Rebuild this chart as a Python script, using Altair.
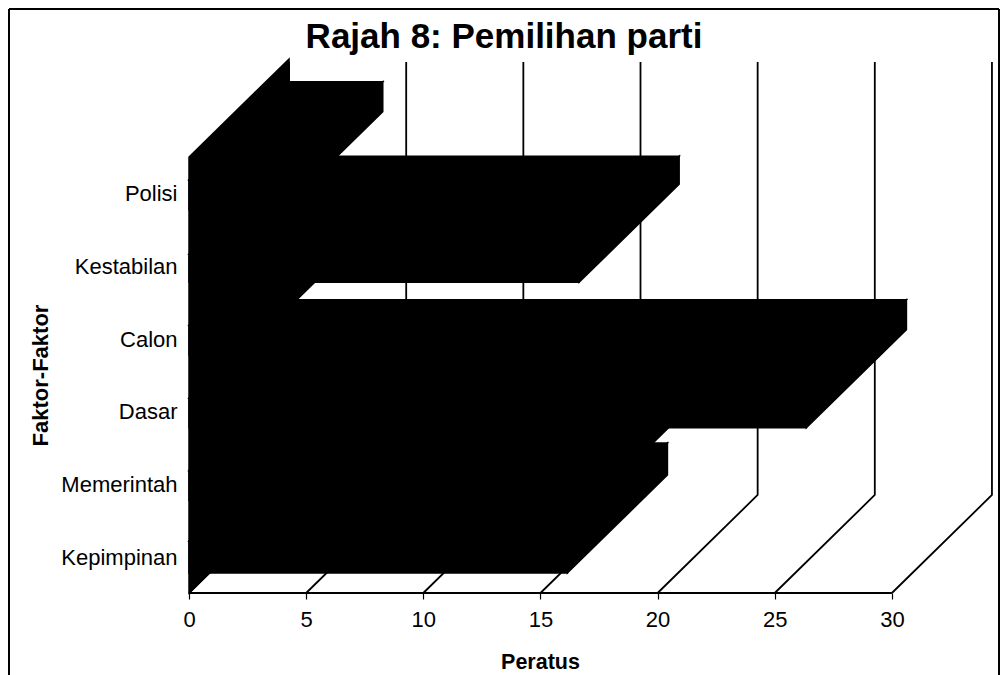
import altair as alt
import pandas as pd

categories = ["Kepimpinan", "Memerintah", "Dasar", "Calon", "Kestabilan", "Polisi"]
values = [16.15, 17.3, 26.35, 2.2, 16.65, 4.0]
bar_thick = [0.44, 0.41, 0.41, 0.41, 0.385, 0.41]
ticks = [0, 5, 10, 15, 20, 25, 30]

X_MAX = 34.4
Y_MAX = 7.307
DX = 4.27      # depth of the 3-D box, x units
DY = 1.349     # depth of the 3-D box, y units
BAR_BASE = 0.275
FONT = "Liberation Sans"
W, H = 806, 531

horiz, vert = [], []
for i, (c, v, th) in enumerate(zip(categories, values, bar_thick)):
    b, t = i + BAR_BASE, i + BAR_BASE + th
    horiz += [dict(k=f"{c}-f", y=b, x=0, x2=v), dict(k=f"{c}-f", y=t, x=0, x2=v)]
    horiz += [dict(k=f"{c}-t", y=t, x=0, x2=v), dict(k=f"{c}-t", y=t + DY, x=DX, x2=v + DX)]
    vert += [dict(k=c, x=v, y=b, y2=t), dict(k=c, x=v + DX, y=b + DY, y2=t + DY)]
vert += [dict(k="wall", x=0, y=0, y2=6), dict(k="wall", x=DX, y=DY, y2=6 + DY)]

grid = []
for tv in ticks:
    grid += [dict(k=tv, o=0, x=tv, y=0), dict(k=tv, o=1, x=tv + DX, y=DY), dict(k=tv, o=2, x=tv + DX, y=Y_MAX)]
floor = [dict(k="floor", o=0, x=ticks[0], y=0), dict(k="floor", o=1, x=ticks[-1], y=0)]

xs = alt.Scale(domain=[0, X_MAX], nice=False, zero=False)
ys = alt.Scale(domain=[0, Y_MAX], nice=False, zero=False)

label_expr = "datum.value == 0.5 ? 'Kepimpinan' : datum.value == 1.5 ? 'Memerintah' : datum.value == 2.5 ? 'Dasar' : datum.value == 3.5 ? 'Calon' : datum.value == 4.5 ? 'Kestabilan' : 'Polisi'"

grid_layer = alt.Chart(pd.DataFrame(grid + floor)).mark_line(color="black", strokeWidth=1.8).encode(
    x=alt.X("x:Q", scale=xs, axis=alt.Axis(
        values=ticks, grid=False, format="d", title="Peratus", domain=False, labelFlush=False,
        tickColor="black", tickSize=6, tickWidth=1.2, labelFont=FONT, labelFontSize=22, labelColor="black",
        labelPadding=10, titleFont=FONT, titleFontSize=21.5, titleFontWeight="bold", titleColor="black",
        titleX=351, titleY=75, titleBaseline="alphabetic", titleAlign="center")),
    y=alt.Y("y:Q", scale=ys, axis=alt.Axis(
        values=[i + 0.5 for i in range(6)], labelExpr=label_expr, grid=False, domain=False, labelOffset=0.5,
        ticks=False, labelPadding=12, labelFont=FONT, labelFontSize=22, labelColor="black",
        title="Faktor-Faktor", titleFont=FONT, titleFontSize=22, titleFontWeight="bold", titleColor="black",
        titleX=-142, titleY=313, titleBaseline="alphabetic", titleAlign="center")),
    detail="k:N", order="o:Q",
)

vert_layer = alt.Chart(pd.DataFrame(vert)).mark_area(color="black", orient="vertical", stroke="black", strokeWidth=1.5).encode(
    x=alt.X("x:Q", scale=xs), y=alt.Y("y:Q", scale=ys), y2="y2:Q", detail="k:N",
)
horiz_layer = alt.Chart(pd.DataFrame(horiz)).mark_area(color="black", orient="horizontal", stroke="black", strokeWidth=1.5).encode(
    y=alt.Y("y:Q", scale=ys), x=alt.X("x:Q", scale=xs), x2="x2:Q", detail="k:N",
)

frame = alt.Chart(pd.DataFrame({"a": [0]}))
left = frame.mark_rule(color="black", strokeWidth=2).encode(x=alt.value(-180), y=alt.value(-53), y2=alt.value(613))
right = frame.mark_rule(color="black", strokeWidth=2).encode(x=alt.value(810), y=alt.value(-53), y2=alt.value(613))
top = frame.mark_rule(color="black", strokeWidth=2).encode(y=alt.value(-53), x=alt.value(-180), x2=alt.value(810))
title = frame.mark_text(text="Rajah 8: Pemilihan parti", font=FONT, fontSize=35, fontWeight="bold", color="black",
                        align="center", baseline="alphabetic").encode(x=alt.value(315), y=alt.value(-14))

chart = alt.layer(grid_layer, vert_layer, horiz_layer, left, right, top, title).properties(
    width=W, height=H,
    padding={"left": 181, "top": 54, "right": 5, "bottom": 82},
    autosize=alt.AutoSizeParams(type="none"),
    background="white",
    view=alt.ViewBackground(stroke="transparent", strokeWidth=0),
).configure_view(strokeWidth=0, stroke="transparent")

chart.save("out.html", embed_options={"renderer": "svg", "actions": False})
